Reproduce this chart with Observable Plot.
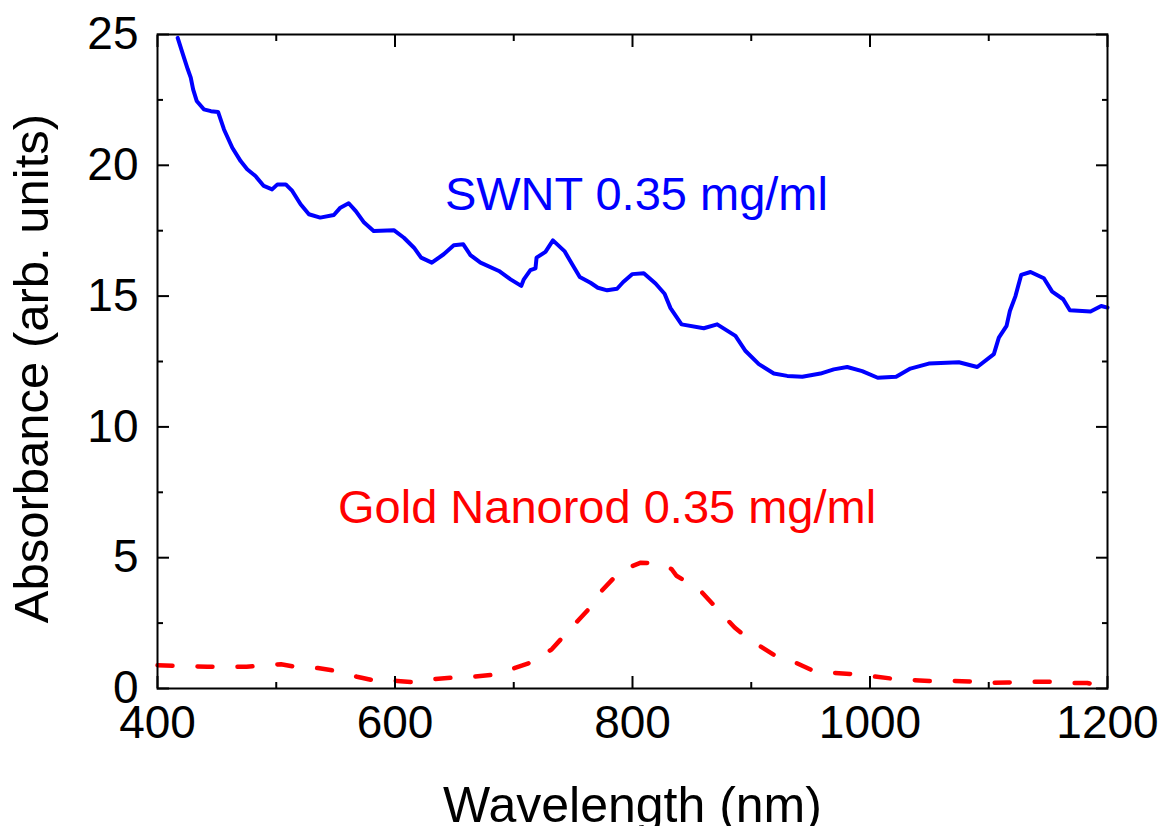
<!DOCTYPE html>
<html>
<head>
<meta charset="utf-8">
<script src="https://cdn.jsdelivr.net/npm/d3@7"></script>
<script src="https://cdn.jsdelivr.net/npm/@observablehq/plot@0.6"></script>
<style>
  html, body { margin: 0; padding: 0; background: #fff; overflow: hidden; }
</style>
</head>
<body>
<div id="chart"></div>
<script>
// ---- data ----
const swntWavelength = [417,421,425.5,428,430,433,439,445,451,456,463,470,475.5,482.5,489.5,496.5,501,508,513.5,520.5,527.5,537,548.5,554,561,567,574,582,599,607.5,616,622,631,641,649.5,657.5,663.5,672,687.5,697.3,706.3,708.5,714,718.3,719.2,726.7,733,742.7,749.2,755.6,764.6,770.8,778.7,787,792.2,799.7,809.5,819.4,827,832,841.3,860,871.3,886.7,895.2,906.4,919,930.3,943,958.3,969.5,980.8,993.4,1006.5,1022,1034,1049.5,1074.8,1090.3,1104.3,1108.5,1115,1117.8,1122.5,1127.3,1135.2,1146.4,1153.4,1162.7,1168.3,1185.7,1194.7,1200];
const swntAbsorbance = [24.87,24.3,23.67,23.35,22.9,22.46,22.14,22.07,22.04,21.37,20.67,20.16,19.85,19.59,19.21,19.08,19.27,19.27,19.02,18.51,18.13,18.0,18.1,18.38,18.55,18.25,17.81,17.49,17.52,17.23,16.85,16.47,16.28,16.6,16.94,16.98,16.57,16.28,15.96,15.64,15.39,15.64,15.99,16.06,16.47,16.69,17.13,16.72,16.22,15.73,15.51,15.32,15.22,15.28,15.54,15.84,15.87,15.48,15.09,14.54,13.92,13.77,13.92,13.48,12.9,12.4,12.04,11.95,11.92,12.04,12.2,12.29,12.13,11.88,11.92,12.23,12.42,12.47,12.29,12.78,13.41,13.86,14.43,15.0,15.81,15.92,15.68,15.17,14.88,14.46,14.41,14.62,14.56];

const goldWavelength = [400,417,442,475,504,515,535,549,568,581,602,615,633,650,666,682,700,716,732,746,763,774,790,807,823,833,837,856,869,886,898,919,932,952,965,985,998,1018,1032,1050,1066,1084,1098,1116,1132,1150,1164,1183,1193,1200];
const goldAbsorbance = [0.89,0.86,0.83,0.83,0.93,0.84,0.78,0.68,0.45,0.32,0.29,0.24,0.36,0.42,0.45,0.52,0.77,1.02,1.5,2.2,3.03,3.73,4.5,4.81,4.78,4.56,4.31,3.8,3.16,2.33,1.89,1.29,1.1,0.68,0.61,0.55,0.49,0.38,0.33,0.29,0.29,0.27,0.21,0.23,0.26,0.26,0.21,0.21,0.1,0.02];

const xMajorTicks = [400, 600, 800, 1000, 1200];
const xMinorTicks = [500, 700, 900, 1100];
const yMajorTicks = [0, 5, 10, 15, 20, 25];
const yMinorTicks = [2.5, 7.5, 12.5, 17.5, 22.5];

const seriesLabels = ["SWNT 0.35 mg/ml", "Gold Nanorod 0.35 mg/ml"];
const xTitle = "Wavelength (nm)";
const yTitle = "Absorbance (arb. units)";

// ---- tables built from the arrays ----
const swnt = swntWavelength.map((w, i) => ({w, a: swntAbsorbance[i]}));
const gold = goldWavelength.map((w, i) => ({w, a: goldAbsorbance[i]}));

const major = 12, minor = 6, tickW = 2;
const tickAxes = [];
for (const [ticks, size] of [[xMajorTicks, major], [xMinorTicks, minor]]) {
  tickAxes.push(Plot.axisX({anchor: "bottom", ticks, tickSize: size, dy: -size, fill: "none", label: null, strokeWidth: tickW}));
  tickAxes.push(Plot.axisX({anchor: "top", ticks, tickSize: size, dy: size, fill: "none", label: null, strokeWidth: tickW}));
}
for (const [ticks, size] of [[yMajorTicks, major], [yMinorTicks, minor]]) {
  tickAxes.push(Plot.axisY({anchor: "left", ticks, tickSize: size, dx: size, fill: "none", label: null, strokeWidth: tickW}));
  tickAxes.push(Plot.axisY({anchor: "right", ticks, tickSize: size, dx: -size, fill: "none", label: null, strokeWidth: tickW}));
}

const fmt = d3.format("d");

const chart = Plot.plot({
  width: 1165,
  height: 850,
  marginLeft: 157,
  marginRight: 58,
  marginTop: 34,
  marginBottom: 162,
  style: {fontFamily: "'Liberation Sans', Arial, Helvetica, sans-serif", background: "white", color: "black"},
  x: {domain: [400, 1200]},
  y: {domain: [0, 25]},
  marks: [
    Plot.line(gold, {x: "w", y: "a", stroke: "#ff0000", strokeWidth: 4.5, strokeDasharray: "15,25", strokeLinecap: "round", strokeLinejoin: "round"}),
    Plot.line(swnt, {x: "w", y: "a", stroke: "#0000ff", strokeWidth: 4, strokeLinejoin: "round"}),
    ...tickAxes,
    Plot.frame({stroke: "black", strokeWidth: 2}),
    Plot.axisX({anchor: "bottom", ticks: xMajorTicks, tickFormat: fmt, tickSize: 0, tickPadding: 17, fontSize: 46, label: null}),
    Plot.axisY({anchor: "left", ticks: yMajorTicks, tickFormat: fmt, tickSize: 0, tickPadding: 19, fontSize: 46, label: null}),
    Plot.text([seriesLabels[0]], {x: 642, y: 18.29, text: d => d, textAnchor: "start", lineAnchor: "bottom", fill: "#0000ff", fontSize: 47}),
    Plot.text([seriesLabels[1]], {x: 552, y: 6.33, text: d => d, textAnchor: "start", lineAnchor: "bottom", fill: "#ff0000", fontSize: 47}),
    Plot.text([xTitle], {frameAnchor: "bottom", dy: 133, text: d => d, textAnchor: "middle", lineAnchor: "bottom", fontSize: 50, fill: "black"}),
    Plot.text([yTitle], {frameAnchor: "left", dx: -110, dy: 7, rotate: -90, text: d => d, textAnchor: "middle", lineAnchor: "bottom", fontSize: 49, fill: "black"})
  ]
});
document.getElementById("chart").appendChild(chart);
</script>
</body>
</html>
